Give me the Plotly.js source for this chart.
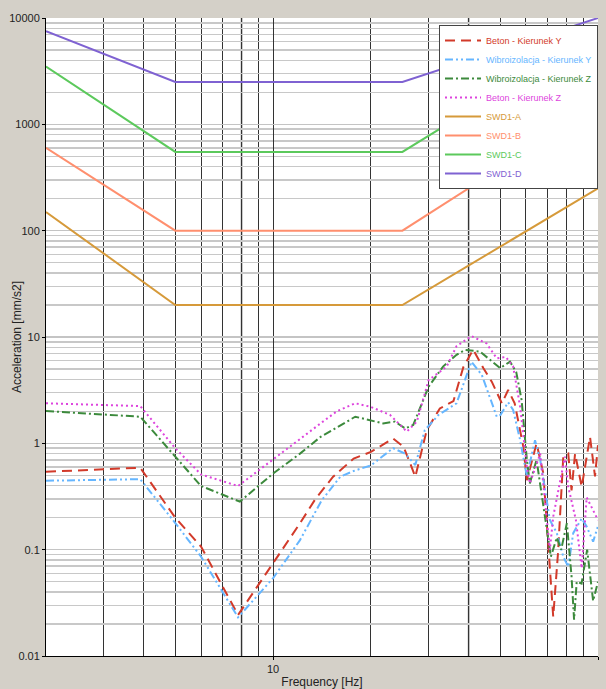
<!DOCTYPE html>
<html>
<head>
<meta charset="utf-8">
<script src="https://cdn.plot.ly/plotly-3.0.1.min.js"></script>
<style>html,body{margin:0;padding:0;background:#d4d0c8;}#chart{width:606px;height:689px;}</style>
</head>
<body>
<div id="chart"></div>
<script>
// ---- data ----
const betonY_f = [2, 3.9, 5, 6.0, 7.8, 10, 12.1, 13.5, 15.3, 17.7, 20, 23.4, 25.2, 26.4, 27.4, 29.7, 32.6, 35.9, 38.5, 41.3, 44.4, 47.1, 50.6, 52.9, 55.4, 58.9, 60.4, 64.7, 67.9, 72.8, 75.3, 78.2, 81, 82.9, 85, 89.1, 94.5, 97.9, 100];
const betonY_v = [0.54, 0.59, 0.20, 0.107, 0.0243, 0.075, 0.177, 0.30, 0.485, 0.72, 0.83, 1.11, 0.93, 0.65, 0.485, 1.33, 2.13, 2.5, 5.2, 7.6, 5.08, 3.80, 2.38, 3.17, 2.38, 0.93, 0.45, 1.0, 0.52, 0.0234, 0.092, 0.75, 0.80, 0.36, 0.80, 0.39, 1.15, 0.49, 0.96];

const wibroY_f = [2, 3.9, 5, 6.0, 7.8, 10, 12.1, 14.1, 16.1, 17.7, 20, 23.4, 25.5, 27.4, 29.3, 32.3, 36.7, 40.8, 43.9, 48.8, 50.1, 52.9, 54.8, 57.6, 60.4, 64, 66.4, 71.1, 74.7, 78.2, 81, 83.9, 89.1, 92.3, 96.6, 100];
const wibroY_v = [0.445, 0.46, 0.178, 0.086, 0.0231, 0.054, 0.123, 0.29, 0.485, 0.55, 0.62, 0.90, 0.80, 0.625, 1.33, 1.85, 2.38, 5.86, 4.39, 1.78, 1.85, 2.43, 2.06, 1.07, 0.49, 1.07, 0.70, 0.19, 0.143, 0.086, 0.069, 0.143, 0.197, 0.165, 0.119, 0.167];

const wibroZ_f = [2, 3.9, 5, 6.0, 7.9, 10, 12.1, 14.0, 17.9, 21.8, 23.7, 25.5, 27.0, 30.1, 33.4, 36.7, 39.0, 43.3, 50, 53.6, 56, 58.2, 60.4, 61.7, 64.7, 69.6, 71.6, 74.7, 77, 80.2, 82.9, 84.4, 86, 89, 92.6, 96.6, 100];
const wibroZ_v = [2.01, 1.78, 0.75, 0.397, 0.283, 0.52, 0.80, 1.15, 1.78, 1.54, 1.60, 1.38, 1.49, 3.41, 5.3, 6.8, 7.55, 7.3, 5.1, 5.86, 4.7, 2.55, 0.70, 0.42, 0.70, 0.153, 0.086, 0.13, 0.10, 0.177, 0.056, 0.022, 0.05, 0.048, 0.10, 0.033, 0.05];

const betonZ_f = [2, 3.9, 5, 6.0, 7.8, 10, 12.1, 14.0, 15.7, 17.9, 20, 22.9, 25.8, 27.7, 30.1, 34.2, 36.7, 40.8, 45.4, 48.8, 52, 54.8, 57.6, 60.4, 61.7, 66.4, 71.1, 72.8, 79.1, 81, 85.5, 89.1, 92.3, 100];
const betonZ_v = [2.38, 2.24, 0.90, 0.51, 0.397, 0.71, 1.11, 1.54, 2.0, 2.38, 2.2, 1.85, 1.29, 1.60, 3.93, 5.26, 8.2, 10.2, 8.7, 6.3, 6.5, 5.3, 2.2, 0.6, 0.42, 0.80, 0.10, 0.204, 0.75, 0.39, 0.19, 0.067, 0.31, 0.19];

const swd_f = [2, 5, 25, 100];
const swdA_v = [150, 20, 20, 250];
const swdB_v = [600, 100, 100, 1500];
const swdC_v = [3500, 550, 550, 7500];
const swdD_v = [7500, 2500, 2500, 10000];

const yTickVals = [0.01, 0.1, 1, 10, 100, 1000, 10000];
const yTickText = ['0.01', '0.1', '1', '10', '100', '1000', '10000'];
const xTickVals = [10, 100];
const xTickText = ['10', '100'];

// minor grid positions (digits 2..9 of every decade)
function digitGrid(fromExp, toExp) {
  const out = [];
  for (let e = fromExp; e <= toExp; e++) {
    for (let d = 1; d <= 9; d++) out.push(d * Math.pow(10, e));
  }
  return out;
}
const yMinor = digitGrid(-2, 3).filter(v => !yTickVals.includes(v));
const xMinor = digitGrid(0, 1).filter(v => v >= 2 && !xTickVals.includes(v));

const names = {
  by: ['Beton - Kierunek Y', '#d23a2a'],
  wy: ['Wibroizolacja - Kierunek Y', '#66b6ff'],
  wz: ['Wibroizolacja - Kierunek Z', '#3c8a3c'],
  bz: ['Beton - Kierunek Z', '#dd44dd'],
  a: ['SWD1-A', '#d69a3a'],
  b: ['SWD1-B', '#ff8f6e'],
  c: ['SWD1-C', '#5cc95c'],
  d: ['SWD1-D', '#7f62d2']
};
function lbl(k) { return '<span style="color:' + names[k][1] + '">' + names[k][0] + '</span>'; }

const traces = [
  {x: betonY_f, y: betonY_v, name: lbl('by'), mode: 'lines', line: {color: names.by[1], width: 2, dash: '10px,6px'}},
  {x: wibroY_f, y: wibroY_v, name: lbl('wy'), mode: 'lines', line: {color: names.wy[1], width: 2, dash: '8px,3px,2px,3px,2px,3px'}},
  {x: wibroZ_f, y: wibroZ_v, name: lbl('wz'), mode: 'lines', line: {color: names.wz[1], width: 2, dash: '8px,3px,2px,3px'}},
  {x: betonZ_f, y: betonZ_v, name: lbl('bz'), mode: 'lines', line: {color: names.bz[1], width: 2, dash: '2px,3px'}},
  {x: swd_f, y: swdA_v, name: lbl('a'), mode: 'lines', line: {color: names.a[1], width: 2}},
  {x: swd_f, y: swdB_v, name: lbl('b'), mode: 'lines', line: {color: names.b[1], width: 2}},
  {x: swd_f, y: swdC_v, name: lbl('c'), mode: 'lines', line: {color: names.c[1], width: 2}},
  {x: swd_f, y: swdD_v, name: lbl('d'), mode: 'lines', line: {color: names.d[1], width: 2}}
];

const narrow = 'Liberation Sans Narrow, Arial Narrow, Liberation Sans, sans-serif';
const tickFont = {family: narrow, size: 11, color: '#222'};

const layout = {
  width: 606, height: 689,
  margin: {l: 46, r: 8, t: 18, b: 33, pad: 0},
  paper_bgcolor: '#d4d0c8',
  plot_bgcolor: '#ffffff',
  font: tickFont,
  showlegend: true,
  legend: {
    x: 1, xanchor: 'right', y: 0.989, yanchor: 'top',
    bgcolor: '#ffffff', bordercolor: '#444', borderwidth: 1,
    font: {family: narrow, size: 9},
    itemwidth: 36, tracegroupgap: 0
  },
  xaxis: {
    type: 'log', range: [Math.log10(2), 2],
    tickmode: 'array', tickvals: xTickVals, ticktext: xTickText,
    ticks: 'outside', ticklen: 3, tickcolor: '#000',
    showgrid: true, gridcolor: '#333', gridwidth: 1,
    minor: {tickmode: 'array', tickvals: xMinor, showgrid: true, gridcolor: '#333', gridwidth: 1, ticks: ''},
    showline: true, linecolor: '#000', linewidth: 1,
    zeroline: false,
    title: {text: 'Frequency [Hz]', font: {family: narrow, size: 12, color: '#222'}, standoff: 4},
    tickfont: tickFont
  },
  yaxis: {
    type: 'log', range: [-2, 4],
    tickmode: 'array', tickvals: yTickVals, ticktext: yTickText,
    ticks: 'outside', ticklen: 3, tickcolor: '#000',
    showgrid: true, gridcolor: '#c4c4c4', gridwidth: 1.5,
    minor: {tickmode: 'array', tickvals: yMinor, showgrid: true, gridcolor: '#c8c8c8', gridwidth: 1.5, ticks: ''},
    showline: true, linecolor: '#000', linewidth: 1,
    zeroline: false,
    tickfont: tickFont
  },
  annotations: [
    {text: 'Acceleration [mm/s2]', xref: 'paper', yref: 'paper', x: (17 - 46) / 552, y: 0.5,
     xanchor: 'center', yanchor: 'middle', textangle: -90, showarrow: false,
     font: {family: 'Liberation Sans, Arial, sans-serif', size: 12, color: '#222'}}
  ],
  shapes: [
    {type: 'line', xref: 'x', yref: 'paper', x0: 8, x1: 8, y0: 0, y1: 1, line: {color: '#a8a8a8', width: 2}, layer: 'below'},
    {type: 'line', xref: 'x', yref: 'paper', x0: 40, x1: 40, y0: 0, y1: 1, line: {color: '#a8a8a8', width: 2}, layer: 'below'}
  ]
};

Plotly.newPlot('chart', traces, layout, {displayModeBar: false, staticPlot: true});
</script>
</body>
</html>
